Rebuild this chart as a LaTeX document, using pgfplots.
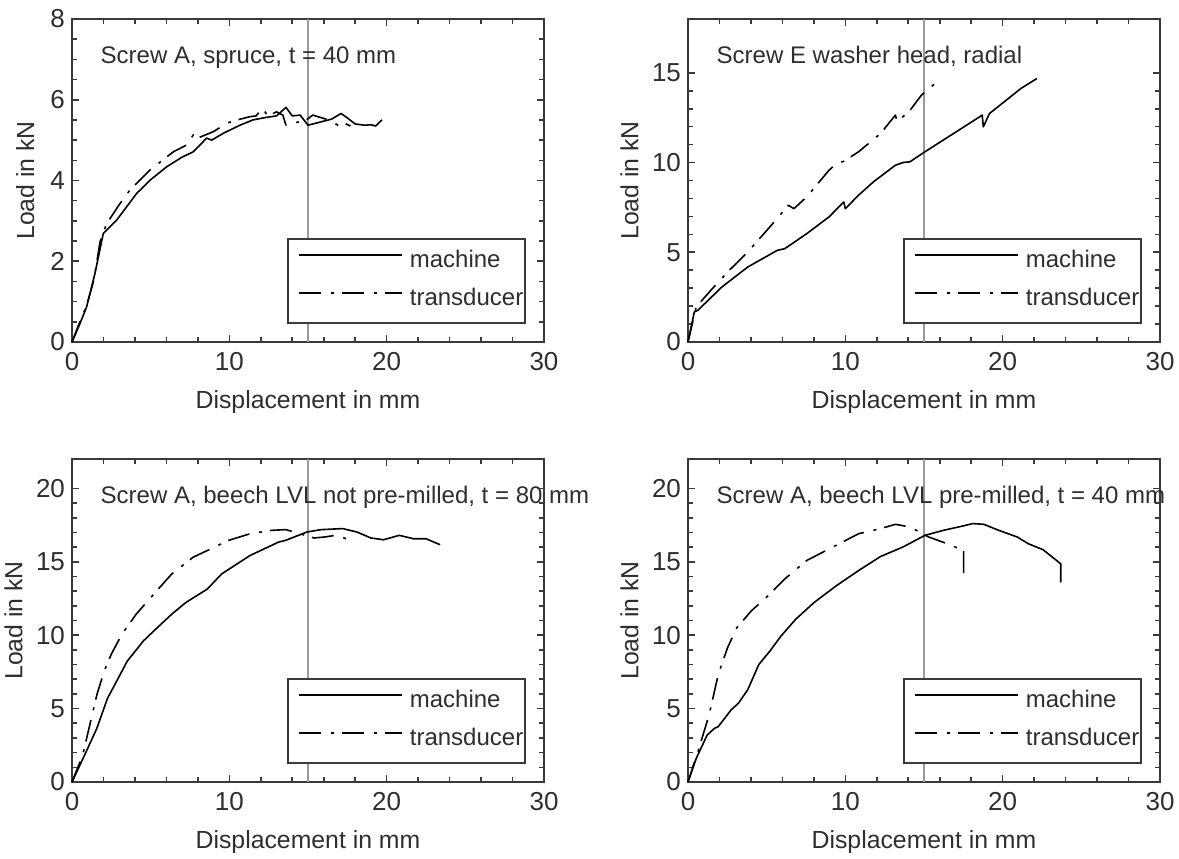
\documentclass[border=0pt]{standalone}
\usepackage{fontspec}
\setmainfont{Liberation Sans}
\usepackage{pgfplots}
\pgfplotsset{compat=1.18}
\definecolor{axc}{HTML}{3A3A3A}
\definecolor{txc}{HTML}{2E2E2E}
\definecolor{vl}{HTML}{9A9A9A}
\newcommand{\fs}{\fontsize{12}{14}\selectfont}
\newcommand{\fl}{\fontsize{12.4}{14}\selectfont}
\newcommand{\ft}{\fontsize{13}{15}\selectfont}
\pgfplotsset{
  panel/.style={
    scale only axis, width=236pt, height=161.5pt, clip=false,
    xmin=0, xmax=30, xtick={0,10,20,30}, minor x tick num=4,
    tick align=inside, major tick length=3.5pt, minor tick length=2.5pt,
    axis line style={axc, line width=0.9pt},
    every tick/.style={axc, line width=0.8pt},
    tick label style={font=\ft, text=txc},
    xticklabel style={yshift=-1.5pt},
    label style={font=\fl, text=txc},
    /pgf/number format/assume math mode=true,
    xlabel={Displacement in mm}, ylabel={Load in kN},
    xlabel style={at={(axis description cs:0.5,-0.186)}, anchor=center},
    ylabel style={at={(axis description cs:-0.124,0.5)}, anchor=center},
    legend style={draw=axc, line width=0.8pt, fill=white,
      at={(rel axis cs:0.962,0.0557)}, anchor=south east,
      inner xsep=1pt, inner ysep=2pt, row sep=0pt, column sep=0pt,
      nodes={inner sep=0pt, text height=12pt, text depth=7pt, font=\fs, text=txc}},
    legend cell align=left,
    legend image code/.code={\path[draw=none] (-4.5pt,3.5pt) -- (55.5pt,3.5pt); \draw[#1] (0pt,3.5pt) -- (51.5pt,3.5pt);},
  },
  mach/.style={black, line width=0.8pt, line join=round},
  trans/.style={black, line width=0.8pt, line join=round, dash pattern=on 11pt off 5pt on 1.5pt off 4pt},
  vline/.style={vl, line width=0.7pt, forget plot},
}
\begin{document}
\begin{tikzpicture}
\useasboundingbox (0,0) rectangle (589.5pt,429pt);
% ---------------- top left
\begin{axis}[panel, at={(36pt,258pt)}, anchor=south west,
  ymin=0, ymax=8, ytick={0,2,4,6,8}, minor y tick num=3,
  ylabel style={at={(axis description cs:-0.099,0.5)}, anchor=center}]
\addplot[vline] coordinates {(15,0) (15,8)};
\addplot[mach] coordinates {
(0,0) (0.5,0.45) (0.93,0.87) (1.46,1.70) (1.99,2.69) (2.84,3.02) (4.11,3.68)
(5.0,4.02) (6.02,4.34) (7.0,4.58) (7.71,4.71) (8.56,5.05) (8.88,5.0) (9.62,5.17)
(10.68,5.37) (11.5,5.5) (12.3,5.56) (13.0,5.6) (13.6,5.81) (14.0,5.6) (14.5,5.62)
(15.0,5.37) (15.8,5.45) (16.5,5.52) (17.1,5.66) (17.5,5.55) (18.0,5.4) (18.6,5.37)
(19.0,5.38) (19.3,5.35) (19.7,5.5)};
\addlegendentry{machine}
\addplot[trans] coordinates {
(0,0) (0.5,0.5) (0.93,0.9) (1.4,1.55) (1.78,2.48) (2.2,2.93) (3.0,3.4) (3.69,3.77)
(4.96,4.26) (6.44,4.71) (7.29,4.88) (7.71,5.13) (7.92,5.04) (8.99,5.21) (9.84,5.42)
(10.5,5.5) (11.3,5.58) (11.7,5.6) (12.1,5.79) (12.45,5.6) (13.0,5.7) (13.4,5.62)
(13.6,5.37) (14.4,5.45) (14.9,5.5) (15.3,5.62) (15.9,5.55) (16.3,5.5) (16.9,5.37)
(17.3,5.42) (17.7,5.35)};
\addlegendentry{transducer}
\node[anchor=base west, inner sep=0pt, font=\fs, text=txc] at (axis cs:1.8,6.9) {Screw A, spruce, t = 40 mm};
\end{axis}
% ---------------- top right
\begin{axis}[panel, at={(344pt,258pt)}, anchor=south west,
  ymin=0, ymax=18, ytick={0,5,10,15}, minor y tick num=4]
\addplot[vline] coordinates {(15,0) (15,18)};
\addplot[mach] coordinates {
(0,0) (0.4,1.67) (0.63,1.77) (2.16,3.07) (3.8,4.18) (5.68,5.11) (6.15,5.2)
(7.55,6.04) (8.96,6.97) (9.9,7.8) (10.0,7.43) (10.84,8.18) (11.78,8.92) (13.18,9.85)
(13.65,10.0) (14.1,10.04) (15.06,10.6) (16.7,11.52) (18.7,12.64) (18.77,11.99)
(19.16,12.73) (21.16,14.13) (22.17,14.68)};
\addlegendentry{machine}
\addplot[trans] coordinates {
(0,0) (0.52,1.95) (1.45,2.88) (2.63,4.0) (3.8,5.02) (5.2,6.41) (6.38,7.62) (6.73,7.43)
(7.55,8.09) (8.96,9.57) (9.43,9.94) (9.9,10.07) (10.84,10.6) (12.24,11.62)
(13.18,12.64) (13.3,12.27) (14.12,12.92) (14.83,13.75) (16.0,14.63)};
\addlegendentry{transducer}
\node[anchor=base west, inner sep=0pt, font=\fs, text=txc] at (axis cs:1.8,15.5) {Screw E washer head, radial};
\end{axis}
% ---------------- bottom left
\begin{axis}[panel, at={(36pt,38pt)}, anchor=south west,
  ymin=0, ymax=22, ytick={0,5,10,15,20}, minor y tick num=4]
\addplot[vline] coordinates {(15,0) (15,22)};
\addplot[mach] coordinates {
(0,0) (0.9,2.06) (1.58,3.66) (2.26,5.71) (2.72,6.63) (3.51,8.23) (4.53,9.6)
(5.2,10.29) (6.34,11.43) (7.24,12.23) (8.6,13.14) (9.51,14.17) (11.32,15.43)
(13.13,16.34) (13.58,16.46) (14.94,17.03) (15.85,17.19) (17.2,17.26) (18.1,17.03)
(19.0,16.62) (19.8,16.5) (20.8,16.8) (21.7,16.57) (22.5,16.57) (23.4,16.16)};
\addlegendentry{machine}
\addplot[trans] coordinates {
(0,0) (0.68,1.83) (1.58,5.94) (2.04,7.54) (2.49,8.69) (3.17,10.06) (4.08,11.43)
(5.2,12.8) (6.34,14.17) (7.7,15.31) (9.06,16.0) (9.96,16.46) (11.32,16.91)
(12.68,17.14) (13.58,17.19) (14.49,16.91) (15.39,16.62) (16.07,16.69) (16.75,16.8)
(17.77,16.46)};
\addlegendentry{transducer}
\node[anchor=base west, inner sep=0pt, font=\fs, text=txc] at (axis cs:1.8,19.0) {Screw A, beech LVL not pre-milled, t = 80 mm};
\end{axis}
% ---------------- bottom right
\begin{axis}[panel, at={(344pt,38pt)}, anchor=south west,
  ymin=0, ymax=22, ytick={0,5,10,15,20}, minor y tick num=4]
\addplot[vline] coordinates {(15,0) (15,22)};
\addplot[mach] coordinates {
(0,0) (0.52,1.6) (1.22,3.2) (1.69,3.66) (1.92,3.77) (2.74,4.91) (3.21,5.37) (3.8,6.29)
(4.5,8.0) (5.2,8.91) (5.91,9.94) (6.85,11.09) (8.02,12.23) (9.43,13.37) (10.84,14.4)
(12.24,15.36) (13.65,16.0) (15.06,16.8) (16.23,17.14) (17.4,17.42) (18.1,17.6)
(18.81,17.55) (19.75,17.14) (20.92,16.69) (21.63,16.23) (22.57,15.82) (23.69,14.86)
(23.69,13.6)};
\addlegendentry{machine}
\addplot[trans] coordinates {
(0,0) (0.63,2.06) (1.34,4.57) (1.92,7.31) (2.51,9.14) (3.1,10.51) (4.03,11.66)
(4.97,12.57) (6.15,13.83) (7.55,15.09) (9.2,16.0) (10.84,16.91) (12.24,17.26)
(13.18,17.55) (14.12,17.37) (15.29,16.69) (16.47,16.23) (17.52,15.77) (17.52,13.6)};
\addlegendentry{transducer}
\node[anchor=base west, inner sep=0pt, font=\fs, text=txc] at (axis cs:1.8,19.0) {Screw A, beech LVL pre-milled, t = 40 mm};
\end{axis}
\end{tikzpicture}
\end{document}
